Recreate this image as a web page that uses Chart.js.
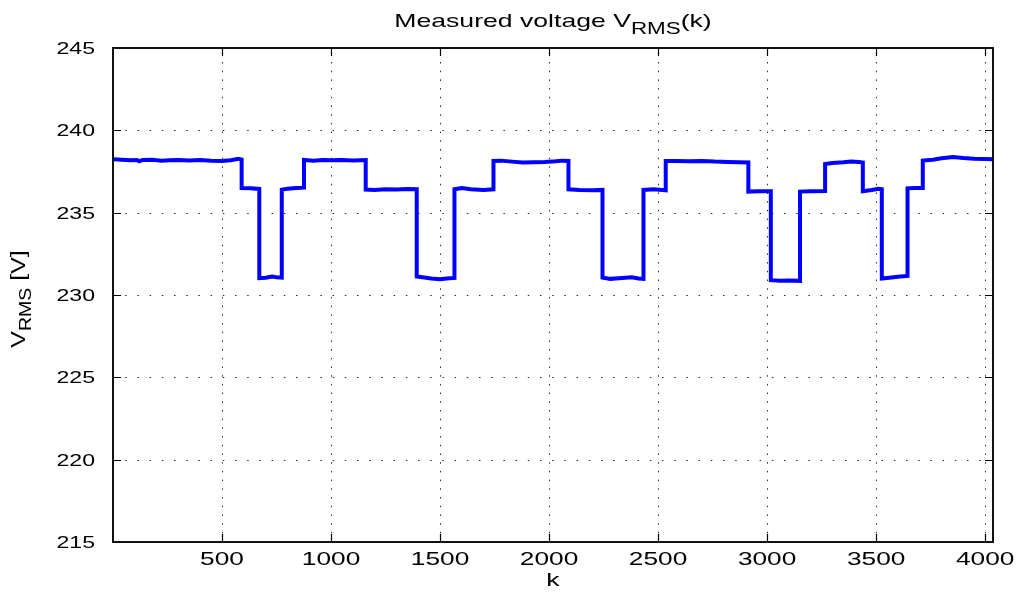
<!DOCTYPE html>
<html>
<head>
<meta charset="utf-8">
<script src="https://cdn.jsdelivr.net/npm/chart.js@4.4.0/dist/chart.umd.min.js"></script>
<style>
  html, body { margin: 0; padding: 0; background: #ffffff; }
  #wrap { width: 1016px; height: 592px; }
</style>
</head>
<body>
<div id="wrap"><canvas id="c" width="1016" height="592"></canvas></div>
<script>
// Sample index k and the measured RMS voltage at that sample (step changes listed twice)
const kValues = [
  1, 40, 80, 110, 121, 135, 180, 221, 260, 300, 350, 400, 450, 500, 540, 575, 590,
  590, 630, 671,
  671, 700, 730, 750, 774,
  774, 800, 840, 876,
  876, 920, 960, 1000, 1050, 1100, 1159,
  1159, 1200, 1250, 1300, 1350, 1393,
  1393, 1420, 1460, 1500, 1530, 1566,
  1566, 1600, 1640, 1700, 1745,
  1745, 1780, 1830, 1880, 1930, 1980, 2030, 2060, 2089,
  2089, 2140, 2200, 2245,
  2245, 2280, 2320, 2380, 2410, 2433,
  2433, 2480, 2535,
  2535, 2580, 2640, 2700, 2760, 2820, 2870, 2914,
  2914, 2960, 3017,
  3017, 3060, 3100, 3151,
  3151, 3200, 3266,
  3266, 3300, 3350, 3385, 3420, 3439,
  3439, 3480, 3510, 3526,
  3526, 3570, 3610, 3644,
  3644, 3680, 3714,
  3714, 3760, 3800, 3853, 3900, 3950, 4000, 4036
];
const vrmsValues = [
  238.25, 238.22, 238.18, 238.2, 238.12, 238.2, 238.22, 238.15, 238.18, 238.2, 238.17, 238.2, 238.16, 238.14, 238.18, 238.27, 238.22,
  236.5, 236.48, 236.44,
  231.02, 231.05, 231.12, 231.08, 231.06,
  236.4, 236.45, 236.5, 236.52,
  238.2, 238.16, 238.2, 238.18, 238.2, 238.17, 238.2,
  236.4, 236.38, 236.42, 236.4, 236.44, 236.42,
  231.12, 231.08, 231.0, 230.96, 231.0, 231.04,
  236.42, 236.5, 236.42, 236.38, 236.42,
  238.14, 238.16, 238.1, 238.05, 238.06, 238.08, 238.12, 238.16, 238.14,
  236.42, 236.38, 236.36, 236.38,
  231.06, 230.98, 231.02, 231.08, 231.0, 230.98,
  236.38, 236.42, 236.36,
  238.14, 238.14, 238.12, 238.14, 238.1, 238.08, 238.06, 238.05,
  236.28, 236.3, 236.3,
  230.9, 230.86, 230.88, 230.86,
  236.28, 236.3, 236.32,
  237.96, 238.02, 238.06, 238.1, 238.08, 238.05,
  236.3, 236.38, 236.45, 236.42,
  231.0, 231.06, 231.12, 231.16,
  236.48, 236.5, 236.5,
  238.16, 238.22, 238.3, 238.38, 238.32, 238.28, 238.26, 238.25
];

const xTickLabels = ['500', '1000', '1500', '2000', '2500', '3000', '3500', '4000'];
const yTickLabels = ['215', '220', '225', '230', '235', '240', '245'];

const FONT = '"Liberation Sans", Arial, Helvetica, sans-serif';

// Draws a run of text pieces (optionally subscripted), stretched horizontally by sx.
function drawRich(ctx, parts, x, y, size, sx, align, rotate) {
  ctx.save();
  ctx.translate(x, y);
  if (rotate) ctx.rotate(-Math.PI / 2);
  ctx.fillStyle = '#000';
  ctx.textBaseline = 'alphabetic';
  ctx.textAlign = 'left';
  let total = 0;
  const widths = parts.map(p => {
    ctx.font = (p.sub ? p.subSize : size) + 'px ' + FONT;
    const w = ctx.measureText(p.t).width;
    total += w;
    return w;
  });
  let start = 0;
  if (align === 'center') start = -total * sx / 2;
  else if (align === 'right') start = -total * sx;
  ctx.translate(start, 0);
  ctx.scale(sx, 1);
  let cx = 0;
  parts.forEach((p, i) => {
    ctx.font = (p.sub ? p.subSize : size) + 'px ' + FONT;
    ctx.fillText(p.t, cx, p.sub ? p.dy : 0);
    cx += widths[i];
  });
  ctx.restore();
}

const axesFrame = {
  id: 'axesFrame',
  beforeDatasetsDraw(chart) {
    const { ctx, chartArea: a, scales: { x, y } } = chart;
    ctx.save();
    ctx.strokeStyle = '#2a2a2a';
    ctx.lineWidth = 1;
    // vertical dotted grid
    ctx.setLineDash([1.5, 7.2]);
    xTickLabels.forEach(t => {
      const px = Math.round(x.getPixelForValue(Number(t))) + 0.5;
      ctx.beginPath();
      ctx.moveTo(px, a.bottom);
      ctx.lineTo(px, a.top);
      ctx.stroke();
    });
    // horizontal dotted grid
    ctx.setLineDash([1.5, 10.7]);
    yTickLabels.forEach(t => {
      const py = Math.round(y.getPixelForValue(Number(t))) + 0.5;
      ctx.beginPath();
      ctx.moveTo(a.left, py);
      ctx.lineTo(a.right, py);
      ctx.stroke();
    });
    ctx.restore();
  },
  afterDatasetsDraw(chart) {
    const { ctx, chartArea: a, scales: { x, y } } = chart;
    const tick = 8;
    ctx.save();
    ctx.setLineDash([]);
    ctx.strokeStyle = '#000';
    ctx.lineWidth = 1.2;
    xTickLabels.forEach(t => {
      const px = Math.round(x.getPixelForValue(Number(t))) + 0.5;
      ctx.beginPath();
      ctx.moveTo(px, a.bottom); ctx.lineTo(px, a.bottom - tick);
      ctx.moveTo(px, a.top); ctx.lineTo(px, a.top + tick);
      ctx.stroke();
    });
    yTickLabels.forEach(t => {
      const py = Math.round(y.getPixelForValue(Number(t))) + 0.5;
      ctx.beginPath();
      ctx.moveTo(a.left, py); ctx.lineTo(a.left + tick, py);
      ctx.moveTo(a.right, py); ctx.lineTo(a.right - tick, py);
      ctx.stroke();
    });
    ctx.lineWidth = 2;
    ctx.strokeStyle = '#111';
    ctx.strokeRect(a.left, a.top, a.right - a.left, a.bottom - a.top);
    ctx.restore();

    // tick labels
    xTickLabels.forEach(t => {
      const px = x.getPixelForValue(Number(t));
      drawRich(ctx, [{ t }], px, a.bottom + 23, 18.5, 1.42, 'center');
    });
    yTickLabels.forEach(t => {
      const py = y.getPixelForValue(Number(t));
      drawRich(ctx, [{ t }], a.left - 18, py + 6, 16.5, 1.4, 'right');
    });

    // axis labels and title
    const mid = (a.left + a.right) / 2;
    drawRich(ctx, [{ t: 'k' }], mid, 586, 19, 1.4, 'center');
    drawRich(ctx, [
      { t: 'V' },
      { t: 'RMS', sub: true, subSize: 16, dy: 6 },
      { t: ' [V]' }
    ], 25, (a.top + a.bottom) / 2 + 4, 20.5, 1.22, 'center', true);
    drawRich(ctx, [
      { t: 'Measured voltage V' },
      { t: 'RMS', sub: true, subSize: 16, dy: 6.5 },
      { t: '(k)' }
    ], mid, 27, 19, 1.4, 'center');
  }
};

new Chart(document.getElementById('c'), {
  type: 'line',
  data: {
    datasets: [{
      data: kValues.map((k, i) => ({ x: k, y: vrmsValues[i] })),
      borderColor: '#0000ff',
      borderWidth: 4,
      pointRadius: 0,
      tension: 0,
      fill: false
    }]
  },
  options: {
    responsive: false,
    animation: false,
    devicePixelRatio: 1,
    layout: { padding: { left: 113, top: 48, right: 23, bottom: 50 } },
    plugins: { legend: { display: false }, tooltip: { enabled: false }, title: { display: false } },
    scales: {
      x: { type: 'linear', min: 0, max: 4036, display: false },
      y: { type: 'linear', min: 215, max: 245, display: false }
    }
  },
  plugins: [axesFrame]
});
</script>
</body>
</html>
